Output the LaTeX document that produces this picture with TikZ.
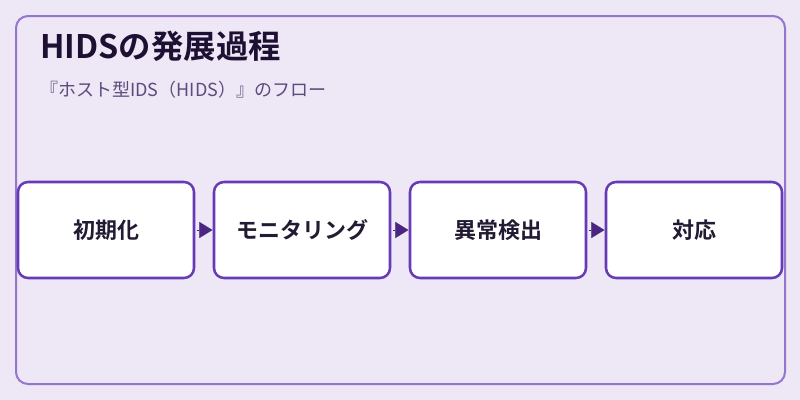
\documentclass[tikz,border=0pt]{standalone}
\usepackage{fontspec}
\setmainfont{Noto Sans CJK JP}
\newfontfamily\jpbold{Noto Sans CJK JP Bold}
\usetikzlibrary{arrows.meta}
\definecolor{bgc}{HTML}{EDE7F6}
\definecolor{framec}{HTML}{9575CD}
\definecolor{boxc}{HTML}{673AB7}
\definecolor{arrc}{HTML}{4A2680}
\definecolor{titlec}{HTML}{1E1033}
\definecolor{subc}{HTML}{5E4B7D}
\definecolor{textc}{HTML}{231A33}
\tikzset{
  stepbox/.style={draw=boxc, line width=1.9pt, fill=white, rounded corners=7.5pt,
    minimum width=132pt, minimum height=72pt, inner sep=0pt, outer sep=0pt,
    font=\jpbold\fontsize{16.5pt}{19pt}\selectfont, text=textc},
  flowarrow/.style={draw=arrc, fill=arrc, line width=0.1pt,
    -{Triangle[length=9.75pt,width=12pt]}, shorten <=2.6pt, shorten >=1.2pt},
}
\newcommand{\lowered}[1]{\raisebox{-1.6pt}{#1}}
\begin{document}
\begin{tikzpicture}[x=0.75pt,y=-0.75pt]
\useasboundingbox (0,0) rectangle (800,400);
\fill[bgc] (0,0) rectangle (800,400);
\draw[framec, line width=1.5pt, rounded corners=9pt] (16,16) rectangle (785,384);
\node[anchor=base west, inner sep=0pt, text=titlec, font=\jpbold\fontsize{24.3pt}{28pt}\selectfont] (title) at (40,58) {HIDSの発展過程};
\node[anchor=base west, inner sep=0pt, text=subc, font=\fontsize{13.5pt}{16pt}\selectfont] (sub) at (40,96) {『ホスト型IDS（HIDS）』のフロー};
\node[stepbox] (b1) at (106,230) {\lowered{初期化}};
\node[stepbox] (b2) at (302,230) {\lowered{モニタリング}};
\node[stepbox] (b3) at (498,230) {\lowered{異常検出}};
\node[stepbox] (b4) at (694,230) {\lowered{対応}};
\draw[flowarrow] (b1.east) -- (b2.west);
\draw[flowarrow] (b2.east) -- (b3.west);
\draw[flowarrow] (b3.east) -- (b4.west);
\end{tikzpicture}
\end{document}
